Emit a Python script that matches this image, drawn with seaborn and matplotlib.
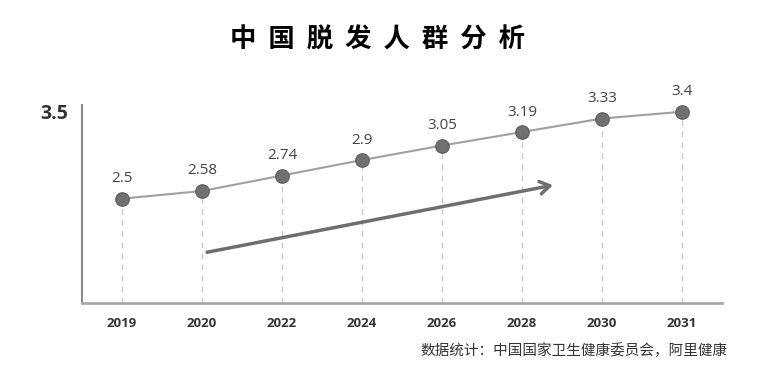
import matplotlib
matplotlib.use("Agg")
import matplotlib.pyplot as plt
import seaborn as sns
import pandas as pd

years = ["2019", "2020", "2022", "2024", "2026", "2028", "2030", "2031"]
people = [2.5, 2.58, 2.74, 2.9, 3.05, 3.19, 3.33, 3.4]
title = "中国脱发人群分析"
source = "数据统计：中国国家卫生健康委员会，阿里健康"

sns.set_style("white")
plt.rcParams["font.family"] = ["Noto Sans CJK SC", "DejaVu Sans"]

df = pd.DataFrame({"year": years, "value": people})

fig = plt.figure(figsize=(7.82, 3.71), dpi=100)
ax = fig.add_axes([0.1049, 0.1833, 0.8184, 0.5337])

ymin = 1.42
# dashed drop lines
ax.vlines(range(len(years)), ymin, df["value"], colors="#c8c8c8",
          linestyles=(0, (4, 4)), linewidth=1, zorder=1)

sns.lineplot(data=df, x="year", y="value", sort=False, color="#a0a0a0",
             linewidth=1.5, ax=ax, zorder=2)
sns.scatterplot(data=df, x="year", y="value", color="#707070", s=95,
                edgecolor="#5a5a5a", linewidth=0.8, ax=ax, zorder=3)

for i, v in enumerate(people):
    ax.annotate(f"{v:g}", (i, v), xytext=(0, 9), textcoords="offset points",
                ha="center", va="bottom", fontsize=11, color="#444444",
                family=["Open Sans", "DejaVu Sans"])

# trend arrow
ax.annotate("", xy=(5.42, 2.645), xytext=(1.03, 1.94),
            arrowprops=dict(arrowstyle="->,head_length=0.7,head_width=0.45",
                            color="#6e6e6e", lw=2.5))

ax.set_xlim(-0.5, 7.5)
ax.set_ylim(ymin, 3.47)
ax.set_yticks([3.4])
ax.set_yticklabels(["3.5"], fontsize=14, fontweight="bold", color="#333333",
                   family=["Open Sans", "DejaVu Sans"])
ax.set_xticks(range(len(years)))
ax.set_xticklabels(years, fontsize=9.5, fontweight="bold", color="#333333",
                   family=["Open Sans", "DejaVu Sans"])
ax.tick_params(axis="both", length=0, pad=10)
ax.tick_params(axis="y", pad=10)
ax.set_xlabel("")
ax.set_ylabel("")

for side in ["top", "right"]:
    ax.spines[side].set_visible(False)
ax.spines["left"].set_color("#8a8a8a")
ax.spines["left"].set_linewidth(1.5)
ax.spines["bottom"].set_color("#a8a8a8")
ax.spines["bottom"].set_linewidth(2)

fig.text(0.483, 0.892, "  ".join(title), ha="center", va="center",
         fontsize=19, fontweight="bold", color="#000000")
fig.text(0.931, 0.055, source, ha="right", va="center", fontsize=10.5,
         color="#333333")

fig.savefig("out.png", dpi=100)
